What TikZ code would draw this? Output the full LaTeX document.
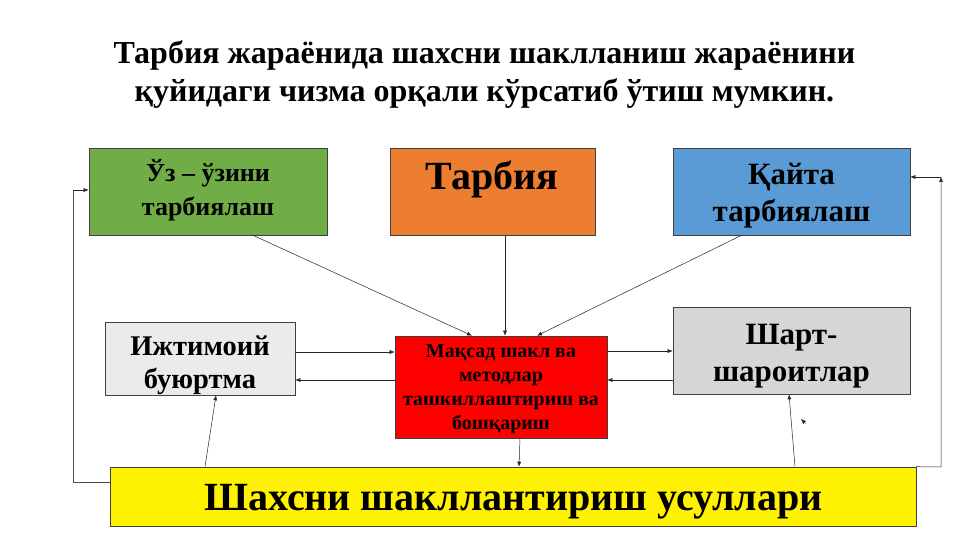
\documentclass[tikz,border=0pt]{standalone}
\usepackage{fontspec}
\setmainfont{Liberation Serif}
\usetikzlibrary{arrows.meta}
\definecolor{cgreen}{HTML}{70AD47}
\definecolor{corange}{HTML}{ED7D31}
\definecolor{cblue}{HTML}{5B9BD5}
\definecolor{cgrey}{HTML}{EBEBEB}
\definecolor{cgrey2}{HTML}{D6D6D6}
\tikzset{
  box/.style={draw=black!75, line width=0.6pt, inner sep=0pt},
  lbl/.style={align=center, font=\bfseries, inner sep=0pt},
  conn/.style={draw=black!85, line width=0.5pt, -{Latex[length=5pt,width=4pt]}},
  plain/.style={draw=black!70, line width=0.5pt},
}
\begin{document}
\begin{tikzpicture}[x=1pt,y=-1pt]
\useasboundingbox[fill=white] (0,0) rectangle (961,540);
% title
\node[lbl, font=\bfseries\fontsize{32}{38}\selectfont] (title) at (484.5,75)
  {Тарбия жараёнида шахсни шаклланиш жараёнини\\қуйидаги чизма орқали кўрсатиб ўтиш мумкин.};
% boxes
\node[box, fill=cgreen, minimum width=238pt, minimum height=87pt] (green) at (208,191.5) {};
\node[lbl, font=\bfseries\fontsize{26}{34}\selectfont] (greenT) at (208,190) {Ўз – ўзини\\тарбиялаш};
\node[box, fill=corange, minimum width=205pt, minimum height=87pt] (orange) at (492.5,191.5) {};
\node[lbl, font=\bfseries\fontsize{40}{44}\selectfont, anchor=base] (orangeT) at (492,190) {Тарбия};
\node[box, fill=cblue, minimum width=237pt, minimum height=87pt] (blue) at (791.5,191.5) {};
\node[lbl, font=\bfseries\fontsize{31}{37}\selectfont] (blueT) at (791.5,196) {Қайта\\тарбиялаш};
\node[box, fill=cgrey, minimum width=190pt, minimum height=73pt] (soc) at (200,358.5) {};
\node[lbl, font=\bfseries\fontsize{28.5}{33}\selectfont] (socT) at (200,365) {Ижтимоий\\буюртма};
\node[box, fill=red, minimum width=212pt, minimum height=102pt] (goal) at (501,387) {};
\node[lbl, font=\bfseries\fontsize{20}{24}\selectfont] (goalT) at (501,389) {Мақсад шакл ва\\методлар\\ташкиллаштириш ва\\бошқариш};
\node[box, fill=cgrey2, minimum width=237pt, minimum height=87pt] (cond) at (791.5,350.5) {};
\node[lbl, font=\bfseries\fontsize{31}{37}\selectfont] (condT) at (791.5,356) {Шарт-\\шароитлар};
\node[box, fill=yellow, minimum width=806pt, minimum height=59pt] (meth) at (513,496.5) {};
\node[lbl, font=\bfseries\fontsize{40}{44}\selectfont, anchor=base] (methT) at (513.5,510) {Шахсни шакллантириш усуллари};
% coordinates
\coordinate (lc1) at (73,482);
\coordinate (lc2) at (73,190);
\coordinate (rc1) at (941,467);
\coordinate (rc2) at (941,177);
\coordinate (st1) at (806,424);
\coordinate (st2) at (801,419);
% connectors
\draw[conn] ([xshift=45pt]green.south) -- ([xshift=-29pt]goal.north);
\draw[conn] ([xshift=12.5pt]orange.south) -- ([xshift=4pt]goal.north);
\draw[conn] ([xshift=-50pt]blue.south) -- ([xshift=36pt]goal.north);
\draw[conn] (soc.east |- 0,352) -- (goal.west |- 0,352);
\draw[conn] (goal.west |- 0,380) -- (soc.east |- 0,380);
\draw[conn] (goal.east |- 0,351) -- (cond.west |- 0,351);
\draw[conn] (cond.west |- 0,380) -- (goal.east |- 0,380);
\draw[conn] ([xshift=19pt]goal.south) -- ([xshift=6pt]meth.north);
\draw[conn] (meth.north -| 205,0) -- (soc.south -| 216,0);
\draw[conn] (meth.north -| 795,0) -- (cond.south -| 789,0);
\draw[plain] (meth.west |- lc1) -- (lc1) -- (lc2);
\draw[conn] (lc2) -- (green.west |- lc2);
\draw[conn] (meth.north east -| 916,0) -- (rc1) -- (rc2);
\draw[conn] (rc2) -- (blue.east |- rc2);
\draw[conn, line width=0.3pt] (st1) -- (st2);
\end{tikzpicture}
\end{document}
